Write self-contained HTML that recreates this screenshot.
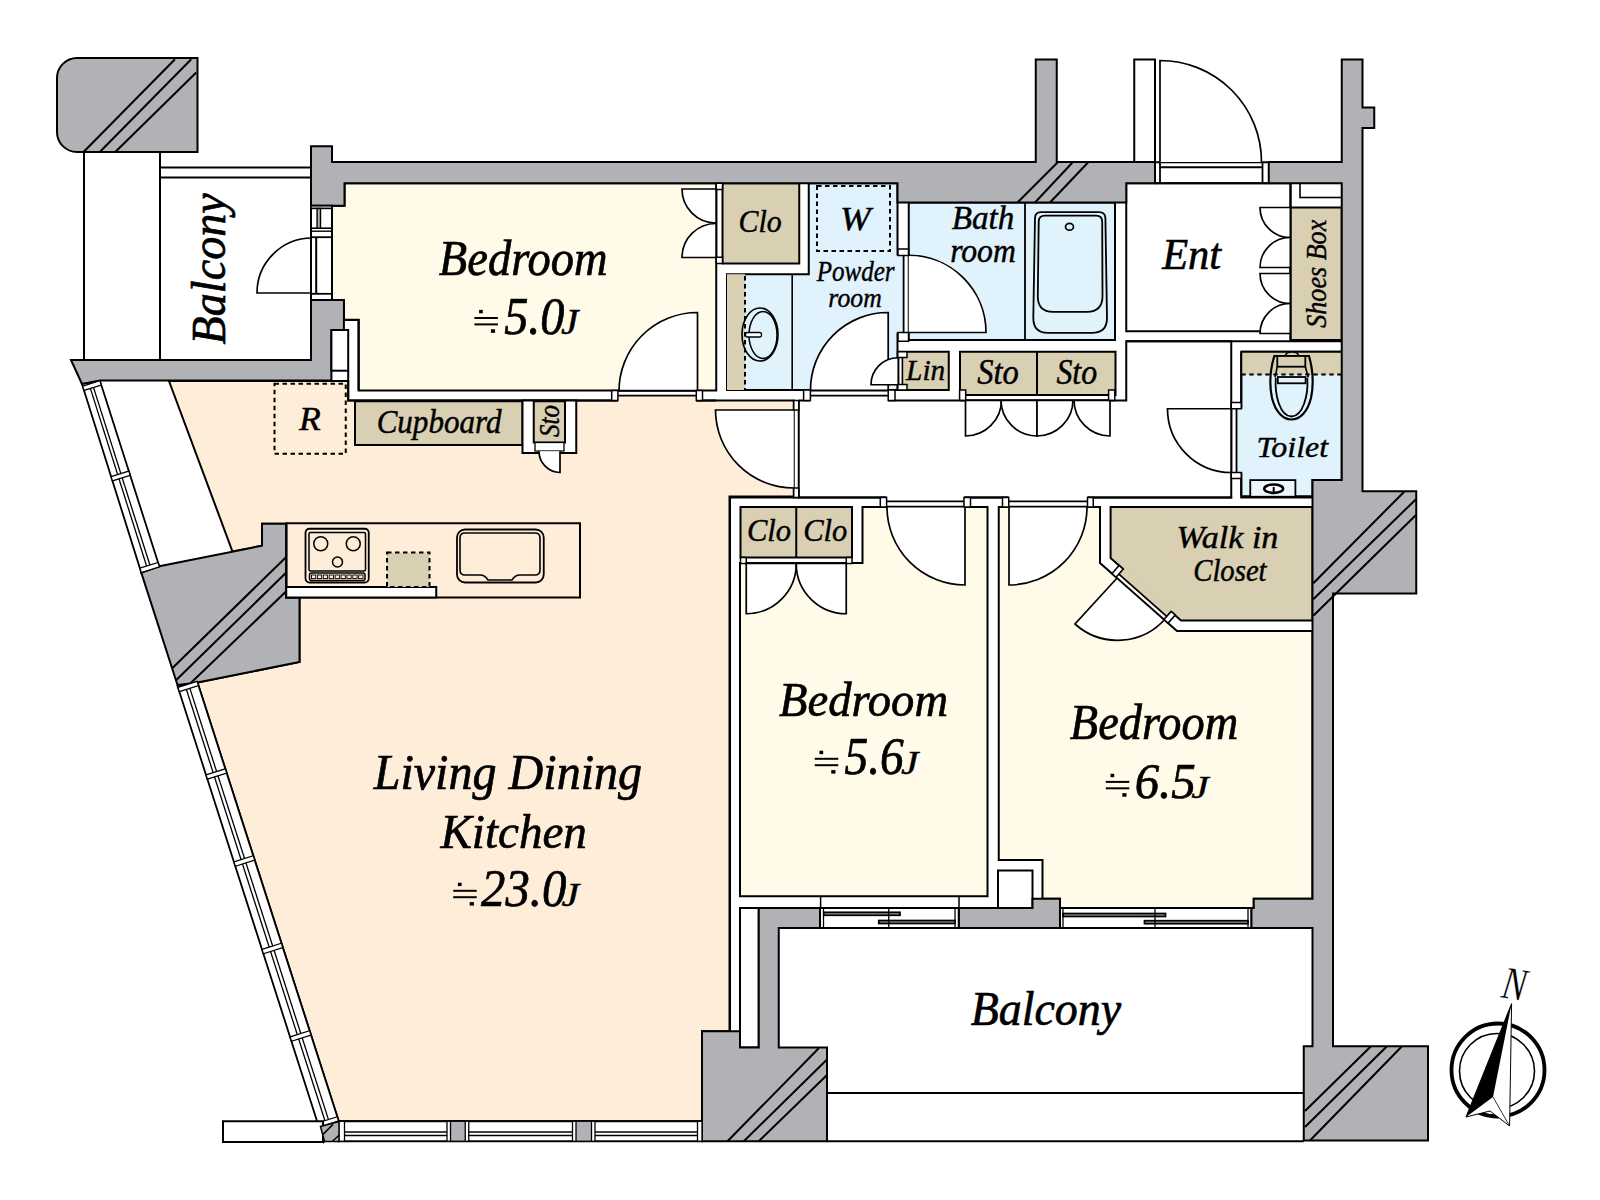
<!DOCTYPE html>
<html><head><meta charset="utf-8"><title>Floor plan</title>
<style>
html,body{margin:0;padding:0;background:#fff;}
body{width:1600px;height:1200px;overflow:hidden;}
svg{display:block;}
text{font-family:"Liberation Serif",serif;fill:#000;}
</style></head><body>
<svg width="1600" height="1200" viewBox="0 0 1600 1200">
<rect x="0" y="0" width="1600" height="1200" fill="#fff"/>
<polygon points="169,381 348.2,381 348.2,400.5 793.75,400.5 793.75,496.5 729.5,496.5 729.5,1031.25 702,1031.25 702,1121.25 338.75,1121.25 197.5,682.5 299.5,662 299.5,597.5 286.25,597.5 286.25,523.75 262,523.75 262,545.75 232.5,551.5" fill="#feedd9" stroke="#000" stroke-width="2" />
<polygon points="344.5,183.25 716.25,183.25 716.25,390.5 358.75,390.5 358.75,320 344,320 344,300 332,300 332,205.75 344.5,205.75" fill="#fffbe8" stroke="#000" stroke-width="2" />
<rect x="722.5" y="183.25" width="76.75" height="80.25" fill="#d9cfb3" stroke="#000" stroke-width="2" />
<polygon points="808.75,183.25 897.5,183.25 897.5,390 727,390 727,274.2 808.75,274.2" fill="#e0f2fb" stroke="#000" stroke-width="2" />
<rect x="727" y="274.2" width="18" height="115.8" fill="#d9cfb3" stroke="none" stroke-width="0" />
<line x1="745" y1="276" x2="745" y2="390" stroke="#000" stroke-width="2" stroke-dasharray="4.5,3.5"/>
<line x1="792.2" y1="274.2" x2="792.2" y2="390" stroke="#000" stroke-width="1.6" />
<rect x="817" y="186" width="73" height="65" fill="none" stroke="#000" stroke-width="2" stroke-dasharray="4.5,3.5"/>
<rect x="895.8" y="255.5" width="7.8" height="77" fill="#e0f2fb" stroke="none" stroke-width="0" />
<line x1="903.6" y1="255.5" x2="903.6" y2="332.5" stroke="#000" stroke-width="1.8" />
<polygon points="908.75,202.5 1115,202.5 1115,340 908.75,340" fill="#e0f2fb" stroke="#000" stroke-width="2" />
<line x1="1025" y1="202.5" x2="1025" y2="340" stroke="#000" stroke-width="1.8" />
<rect x="897.8" y="351.75" width="50.95" height="38.25" fill="#d9cfb3" stroke="#000" stroke-width="2" />
<rect x="960" y="351.75" width="155.5" height="43.25" fill="#d9cfb3" stroke="#000" stroke-width="2" />
<line x1="1037" y1="351.75" x2="1037" y2="395" stroke="#000" stroke-width="2" />
<polygon points="1126.25,183.25 1290.5,183.25 1290.5,331.25 1126.25,331.25" fill="#fff" stroke="#000" stroke-width="2" />
<rect x="1290.5" y="207.5" width="51.25" height="132.5" fill="#d9cfb3" stroke="#000" stroke-width="2" />
<rect x="1300" y="183.25" width="41.75" height="14.25" fill="#fff" stroke="#000" stroke-width="1.6" />
<line x1="1290.5" y1="183.25" x2="1290.5" y2="207.5" stroke="#000" stroke-width="2" />
<polyline points="798.75,400.5 1126.25,400.5 1126.25,341.25 1231.25,341.25 1231.25,497.5 798.75,497.5 798.75,400.5" fill="none" stroke="#000" stroke-width="2" />
<polygon points="1241.25,351.75 1341.75,351.75 1341.75,480 1312.5,480 1312.5,496.25 1241.25,496.25" fill="#e0f2fb" stroke="#000" stroke-width="2" />
<rect x="1241.25" y="351.75" width="100.5" height="22.75" fill="#d9cfb3" stroke="none" stroke-width="0" />
<line x1="1241.25" y1="374.5" x2="1341.75" y2="374.5" stroke="#000" stroke-width="2" stroke-dasharray="4.5,3.5"/>
<line x1="1241.25" y1="351.75" x2="1341.75" y2="351.75" stroke="#000" stroke-width="2" />
<line x1="1241.25" y1="351.75" x2="1241.25" y2="496.25" stroke="#000" stroke-width="2" />
<line x1="1126.25" y1="341.25" x2="1341.75" y2="341.25" stroke="#000" stroke-width="2" />
<polygon points="740,563 862.5,563 862.5,507 987.5,507 987.5,896.25 740,896.25" fill="#fffbe8" stroke="#000" stroke-width="2" />
<rect x="740.5" y="507" width="111.5" height="50.5" fill="#d9cfb3" stroke="#000" stroke-width="2" />
<line x1="796.25" y1="507" x2="796.25" y2="557.5" stroke="#000" stroke-width="2" />
<polyline points="730,1031.25 730,497.5 1093,497.5" fill="none" stroke="#000" stroke-width="2" />
<polygon points="998.75,507 1100,507 1100,563 1177,631 1312.5,631 1312.5,898.75 1253.75,898.75 1253.75,908 1060,908 1060,898.75 1042.5,898.75 1042.5,860 998.75,860" fill="#fffbe8" stroke="#000" stroke-width="2" />
<rect x="998" y="870.5" width="34.5" height="37.5" fill="#fff" stroke="#000" stroke-width="2" />
<polygon points="1110.6,507 1312.5,507 1312.5,620.5 1181,620.5 1110.6,558" fill="#d9cfb3" stroke="#000" stroke-width="2" />
<line x1="1093" y1="497.5" x2="1232.2" y2="497.5" stroke="#000" stroke-width="2" />
<line x1="1240.3" y1="497.5" x2="1312.5" y2="497.5" stroke="#000" stroke-width="2" />
<rect x="740" y="908" width="18.75" height="139.5" fill="#fff" stroke="#000" stroke-width="2" />
<path d="M77,58 H197.5 V152 H77 A20,20 0 0 1 57,132 V78 A20,20 0 0 1 77,58 Z" fill="#b1b2b6" stroke="#000" stroke-width="2"/>
<line x1="83.75" y1="151.75" x2="175" y2="59.25" stroke="#000" stroke-width="2" />
<line x1="100" y1="151.75" x2="191.25" y2="59.25" stroke="#000" stroke-width="2" />
<line x1="115.5" y1="151.75" x2="196.25" y2="72.5" stroke="#000" stroke-width="2" />
<line x1="84" y1="152" x2="84" y2="360" stroke="#000" stroke-width="2" />
<line x1="160" y1="152" x2="160" y2="360" stroke="#000" stroke-width="2" />
<line x1="160" y1="167.6" x2="311" y2="167.6" stroke="#000" stroke-width="2" />
<line x1="160" y1="177.6" x2="311" y2="177.6" stroke="#000" stroke-width="2" />
<polygon points="311,146.25 332,146.25 332,162 1035.75,162 1035.75,59.5 1056.75,59.5 1056.75,162 1155,162 1155,183.25 1126.25,183.25 1126.25,202.5 897.5,202.5 897.5,183.25 344.5,183.25 344.5,205.75 311,205.75" fill="#b1b2b6" stroke="#000" stroke-width="2" />
<line x1="1017.5" y1="202.5" x2="1057.5" y2="162.5" stroke="#000" stroke-width="2" />
<line x1="1035" y1="202.5" x2="1072.5" y2="162.5" stroke="#000" stroke-width="2" />
<line x1="1050" y1="202.5" x2="1088" y2="162.5" stroke="#000" stroke-width="2" />
<rect x="1134.25" y="59.5" width="20.75" height="102.5" fill="#fff" stroke="#000" stroke-width="2" />
<line x1="1155" y1="162.3" x2="1268" y2="162.3" stroke="#000" stroke-width="2" />
<line x1="1160" y1="167.2" x2="1262.5" y2="167.2" stroke="#000" stroke-width="2" />
<line x1="1155" y1="183.25" x2="1268" y2="183.25" stroke="#000" stroke-width="2" />
<line x1="1160" y1="162" x2="1160" y2="183.25" stroke="#000" stroke-width="1.8" />
<line x1="1262.5" y1="162" x2="1262.5" y2="183.25" stroke="#000" stroke-width="1.8" />
<polygon points="1268.75,162 1341.75,162 1341.75,59.5 1362.5,59.5 1362.5,107.5 1374.25,107.5 1374.25,128 1362.5,128 1362.5,491.25 1416.25,491.25 1416.25,593.5 1333,593.5 1333,1046.25 1428,1046.25 1428,1140.5 1303.75,1140.5 1303.75,1046.25 1312.5,1046.25 1312.5,928 1251.25,928 1251.25,908 1253.75,908 1253.75,898.75 1312.5,898.75 1312.5,480 1341.75,480 1341.75,183.25 1268.75,183.25" fill="#b1b2b6" stroke="#000" stroke-width="2" />
<line x1="1313.3" y1="583.3" x2="1404.2" y2="491.7" stroke="#000" stroke-width="2" />
<line x1="1313.3" y1="599.2" x2="1416" y2="499.2" stroke="#000" stroke-width="2" />
<line x1="1313.3" y1="615.8" x2="1416" y2="515" stroke="#000" stroke-width="2" />
<line x1="1305" y1="1111" x2="1371" y2="1046.25" stroke="#000" stroke-width="2" />
<line x1="1305" y1="1127" x2="1387" y2="1046.25" stroke="#000" stroke-width="2" />
<line x1="1310" y1="1140.5" x2="1402" y2="1046.25" stroke="#000" stroke-width="2" />
<polygon points="71,360 311,360 311,300 343.9,300 343.9,330 331.4,330 331.4,380.5 100,380.5 82,384" fill="#b1b2b6" stroke="#000" stroke-width="2" />
<rect x="331.4" y="330" width="16.8" height="40.7" fill="#fff" stroke="#000" stroke-width="2" />
<rect x="311" y="205.75" width="21" height="94.25" fill="#fff" stroke="#000" stroke-width="2" />
<rect x="311" y="205.75" width="21" height="2.75" fill="#b1b2b6" stroke="#000" stroke-width="1.4" />
<line x1="311" y1="228.2" x2="332" y2="228.2" stroke="#000" stroke-width="1.6" />
<line x1="311" y1="231.2" x2="332" y2="231.2" stroke="#000" stroke-width="1.4" />
<line x1="311" y1="237.2" x2="332" y2="237.2" stroke="#000" stroke-width="1.8" />
<rect x="317.1" y="208.5" width="3.4" height="19.7" fill="#b1b2b6" stroke="#000" stroke-width="1.4" />
<line x1="316.2" y1="237.2" x2="316.2" y2="293.3" stroke="#000" stroke-width="2" />
<line x1="311" y1="293.8" x2="332" y2="293.8" stroke="#000" stroke-width="1.8" />
<polyline points="343.9,319.8 358.5,319.8 358.5,390.5" fill="none" stroke="#000" stroke-width="2" />
<polyline points="348.2,370.7 348.2,400.5 716.25,400.5" fill="none" stroke="#000" stroke-width="2" />
<polygon points="141.25,572.5 159.25,566.25 262,545.75 262,523.75 286.25,523.75 286.25,597.5 299.5,597.5 299.5,662 197.5,682.5 177.5,685" fill="#b1b2b6" stroke="#000" stroke-width="2" />
<line x1="172.5" y1="668" x2="286.25" y2="557" stroke="#000" stroke-width="2" />
<line x1="176.25" y1="680" x2="286.25" y2="572.5" stroke="#000" stroke-width="2" />
<line x1="190" y1="683.75" x2="286.25" y2="591.25" stroke="#000" stroke-width="2" />
<polygon points="702,1031.25 740,1031.25 740,1047.5 758.75,1047.5 758.75,908 820,908 820,928 778.75,928 778.75,1047.5 827,1047.5 827,1141.25 702,1141.25" fill="#b1b2b6" stroke="#000" stroke-width="2" />
<line x1="727.5" y1="1141.25" x2="818.75" y2="1048.25" stroke="#000" stroke-width="2" />
<line x1="743.75" y1="1141.25" x2="827" y2="1059.5" stroke="#000" stroke-width="2" />
<line x1="758.75" y1="1141.25" x2="827" y2="1075" stroke="#000" stroke-width="2" />
<polygon points="958.75,908 1032.5,908 1032.5,898.75 1060,898.75 1060,928 958.75,928" fill="#b1b2b6" stroke="#000" stroke-width="2" />
<line x1="778.75" y1="928" x2="1312.5" y2="928" stroke="#000" stroke-width="2" />
<line x1="827" y1="1093" x2="1303.75" y2="1093" stroke="#000" stroke-width="2" />
<line x1="827" y1="1141.25" x2="1303.75" y2="1141.25" stroke="#000" stroke-width="2" />
<line x1="740" y1="908" x2="820" y2="908" stroke="#000" stroke-width="2" />
<polygon points="82,384 141.25,572.5 159.25,566.25 100,381" fill="#fff" stroke="#000" stroke-width="1.8" />
<line x1="88.66" y1="382.89" x2="147.91" y2="570.188" stroke="#000" stroke-width="1.3" />
<line x1="91.9" y1="382.35" x2="151.15" y2="569.062" stroke="#000" stroke-width="1.3" />
<polygon points="82.6806,386.165 99.9191,380.747 101.29,385.033 84.03,390.458" fill="#fff" stroke="#000" stroke-width="1.3" />
<polygon points="111.118,476.636 128.809,471.075 130.18,475.361 112.467,480.929" fill="#fff" stroke="#000" stroke-width="1.3" />
<polygon points="139.901,568.208 158.051,562.502 159.422,566.789 141.25,572.501" fill="#fff" stroke="#000" stroke-width="1.3" />
<polygon points="177.5,686 323.75,1142 338.75,1121.25 197.5,682.5" fill="#fff" stroke="#000" stroke-width="1.8" />
<line x1="184.9" y1="684.705" x2="329.3" y2="1134.32" stroke="#000" stroke-width="1.3" />
<line x1="188.5" y1="684.075" x2="332" y2="1130.59" stroke="#000" stroke-width="1.3" />
<polygon points="177.958,687.429 197.109,681.287 198.489,685.57 179.333,691.714" fill="#fff" stroke="#000" stroke-width="1.3" />
<polygon points="206.027,774.944 225.274,768.771 226.653,773.055 207.401,779.229" fill="#fff" stroke="#000" stroke-width="1.3" />
<polygon points="233.934,861.959 253.277,855.756 254.656,860.039 235.309,866.244" fill="#fff" stroke="#000" stroke-width="1.3" />
<polygon points="262.003,949.475 281.442,943.24 282.821,947.523 263.377,953.76" fill="#fff" stroke="#000" stroke-width="1.3" />
<polygon points="290.071,1036.99 309.606,1030.72 310.985,1035.01 291.445,1041.27" fill="#fff" stroke="#000" stroke-width="1.3" />
<polygon points="317.658,1123 337.288,1116.71 338.667,1120.99 319.032,1127.29" fill="#fff" stroke="#000" stroke-width="1.3" />
<rect x="223" y="1121.25" width="100" height="20.75" fill="#fff" stroke="#000" stroke-width="2" />
<rect x="338.75" y="1121.25" width="363.25" height="20" fill="#fff" stroke="#000" stroke-width="2" />
<line x1="338.75" y1="1132" x2="702" y2="1132" stroke="#000" stroke-width="1.3" />
<line x1="338.75" y1="1135.5" x2="702" y2="1135.5" stroke="#000" stroke-width="1.3" />
<rect x="447" y="1121.25" width="21.75" height="20" fill="#fff" stroke="#000" stroke-width="1.3" />
<rect x="450.5" y="1121.25" width="14.75" height="20" fill="#b1b2b6" stroke="#000" stroke-width="1.3" />
<rect x="572.5" y="1121.25" width="22.5" height="20" fill="#fff" stroke="#000" stroke-width="1.3" />
<rect x="576" y="1121.25" width="15.5" height="20" fill="#b1b2b6" stroke="#000" stroke-width="1.3" />
<rect x="338.75" y="1121.25" width="5.75" height="20" fill="#fff" stroke="#000" stroke-width="1.3" />
<rect x="697.5" y="1121.25" width="4.5" height="20" fill="#fff" stroke="#000" stroke-width="1.3" />
<polygon points="320.5,1126.5 339,1121.5 339,1141.5 324.5,1141.5" fill="#b1b2b6" stroke="#000" stroke-width="1.5"/>
<line x1="323" y1="1134.4" x2="333" y2="1124.4" stroke="#000" stroke-width="1.5" />
<line x1="332.2" y1="1141.5" x2="339" y2="1135.2" stroke="#000" stroke-width="1.5" />
<rect x="820" y="908" width="138.75" height="20" fill="#fff" stroke="#000" stroke-width="2" />
<line x1="820.6" y1="896.25" x2="820.6" y2="908" stroke="#000" stroke-width="1.5" />
<line x1="959" y1="896.25" x2="959" y2="908" stroke="#000" stroke-width="1.5" />
<rect x="823.75" y="912.3" width="76.25" height="3" fill="#888" stroke="#000" stroke-width="1.7" />
<rect x="878.75" y="920.5" width="76.25" height="3" fill="#888" stroke="#000" stroke-width="1.7" />
<line x1="888.75" y1="908" x2="888.75" y2="928" stroke="#000" stroke-width="1.3" />
<line x1="823.5" y1="908" x2="823.5" y2="928" stroke="#000" stroke-width="1.3" />
<line x1="955" y1="908" x2="955" y2="928" stroke="#000" stroke-width="1.3" />
<rect x="1060" y="908" width="191.25" height="20" fill="#fff" stroke="#000" stroke-width="2" />
<rect x="1063" y="913.5" width="102.5" height="3" fill="#888" stroke="#000" stroke-width="1.7" />
<rect x="1144.5" y="920.7" width="103.5" height="3" fill="#888" stroke="#000" stroke-width="1.7" />
<line x1="1155" y1="908" x2="1155" y2="928" stroke="#000" stroke-width="1.3" />
<line x1="1063" y1="908" x2="1063" y2="928" stroke="#000" stroke-width="1.3" />
<line x1="1248" y1="908" x2="1248" y2="928" stroke="#000" stroke-width="1.3" />
<rect x="286.25" y="523.25" width="293.75" height="74.25" fill="none" stroke="#000" stroke-width="2" />
<rect x="286.25" y="587" width="150" height="10.5" fill="#fff" stroke="#000" stroke-width="2" />
<rect x="305.5" y="528.75" width="63.25" height="53.75" rx="4" fill="none" stroke="#000" stroke-width="1.8"/>
<rect x="309" y="532.5" width="56.5" height="38.5" rx="1.5" fill="none" stroke="#000" stroke-width="1.5"/>
<rect x="309.5" y="573" width="55.5" height="7.5" rx="2" fill="none" stroke="#000" stroke-width="1.5"/>
<rect x="311.5" y="575" width="4.3" height="3.6" fill="none" stroke="#000" stroke-width="0.9"/>
<rect x="317.4" y="575" width="4.3" height="3.6" fill="none" stroke="#000" stroke-width="0.9"/>
<rect x="323.3" y="575" width="4.3" height="3.6" fill="none" stroke="#000" stroke-width="0.9"/>
<rect x="329.2" y="575" width="4.3" height="3.6" fill="none" stroke="#000" stroke-width="0.9"/>
<rect x="335.1" y="575" width="4.3" height="3.6" fill="none" stroke="#000" stroke-width="0.9"/>
<rect x="341" y="575" width="4.3" height="3.6" fill="none" stroke="#000" stroke-width="0.9"/>
<rect x="346.9" y="575" width="4.3" height="3.6" fill="none" stroke="#000" stroke-width="0.9"/>
<rect x="352.8" y="575" width="4.3" height="3.6" fill="none" stroke="#000" stroke-width="0.9"/>
<rect x="358.7" y="575" width="4.3" height="3.6" fill="none" stroke="#000" stroke-width="0.9"/>
<circle cx="320.75" cy="543.75" r="7" fill="none" stroke="#000" stroke-width="1.5"/>
<circle cx="353.25" cy="543.75" r="7" fill="none" stroke="#000" stroke-width="1.5"/>
<circle cx="337.5" cy="562" r="5" fill="none" stroke="#000" stroke-width="1.5"/>
<rect x="387" y="552.5" width="42.5" height="34.5" fill="#d9cfb3" stroke="#000" stroke-width="2" stroke-dasharray="4.5,3.5"/>
<rect x="457" y="529.5" width="86.75" height="53" rx="8" fill="none" stroke="#000" stroke-width="1.8"/>
<path d="M468,533 H535 Q540,533 540,538 V570 Q540,575 535,575 H520 Q515,575 512,580 H488 Q485,575 480,575 H465 Q460,575 460,570 V538 Q460,533 465,533 Z" fill="none" stroke="#000" stroke-width="1.6"/>
<rect x="274.5" y="383.75" width="71.25" height="70" fill="none" stroke="#000" stroke-width="2" stroke-dasharray="4.5,3.5"/>
<rect x="355" y="401.25" width="167.5" height="43.75" fill="#d9cfb3" stroke="#000" stroke-width="2" />
<rect x="522.5" y="400.5" width="53.75" height="52.5" fill="#fff" stroke="#000" stroke-width="2" />
<rect x="533.75" y="401.25" width="31.25" height="41.25" fill="#d9cfb3" stroke="#000" stroke-width="2" />
<rect x="535" y="442.5" width="29" height="8.5" fill="#fff" stroke="#000" stroke-width="1.3" />
<path d="M312,293 L257,293 A55,55 0 0 1 312,238 Z" fill="#fff" stroke="none"/>
<path d="M312,293 L257,293 A55,55 0 0 1 312,238" fill="none" stroke="#000" stroke-width="1.7"/>
<path d="M716,189 L682,189 A34,34 0 0 0 716,223 Z" fill="#fff" stroke="none"/>
<path d="M716,189 L682,189 A34,34 0 0 0 716,223" fill="none" stroke="#000" stroke-width="1.7"/>
<path d="M716,257.5 L682,257.5 A34,34 0 0 1 716,223.5 Z" fill="#fff" stroke="none"/>
<path d="M716,257.5 L682,257.5 A34,34 0 0 1 716,223.5" fill="none" stroke="#000" stroke-width="1.7"/>
<path d="M697.5,391 L697.5,312.5 A78.5,78.5 0 0 0 619,391 Z" fill="#fff" stroke="none"/>
<path d="M697.5,391 L697.5,312.5 A78.5,78.5 0 0 0 619,391" fill="none" stroke="#000" stroke-width="1.7"/>
<path d="M560,451.25 L560,472.5 A21.25,21.25 0 0 1 539,451.25 Z" fill="#fff" stroke="none"/>
<path d="M560,451.25 L560,472.5 A21.25,21.25 0 0 1 539,451.25" fill="none" stroke="#000" stroke-width="1.7"/>
<path d="M793.75,410 L715.5,410 A78.25,78.25 0 0 0 793.75,488 Z" fill="#fff" stroke="none"/>
<path d="M793.75,410 L715.5,410 A78.25,78.25 0 0 0 793.75,488" fill="none" stroke="#000" stroke-width="1.7"/>
<path d="M888.2,390 L888.2,312.5 A77.5,77.5 0 0 0 810.5,390 Z" fill="#fff" stroke="none"/>
<path d="M888.2,390 L888.2,312.5 A77.5,77.5 0 0 0 810.5,390" fill="none" stroke="#000" stroke-width="1.7"/>
<path d="M908.75,332.5 L986,332.5 A77.25,77.25 0 0 0 908.75,255.25 Z" fill="#fff" stroke="none"/>
<path d="M908.75,332.5 L986,332.5 A77.25,77.25 0 0 0 908.75,255.25" fill="none" stroke="#000" stroke-width="1.7"/>
<path d="M898,384.75 L871,384.75 A27,27 0 0 1 898,357.75 Z" fill="#fff" stroke="none"/>
<path d="M898,384.75 L871,384.75 A27,27 0 0 1 898,357.75" fill="none" stroke="#000" stroke-width="1.7"/>
<path d="M965.5,400 L965.5,436 A36,36 0 0 0 1001.5,400 Z" fill="#fff" stroke="none"/>
<path d="M965.5,400 L965.5,436 A36,36 0 0 0 1001.5,400" fill="none" stroke="#000" stroke-width="1.7"/>
<path d="M1037,400 L1037,436 A36,36 0 0 1 1001,400 Z" fill="#fff" stroke="none"/>
<path d="M1037,400 L1037,436 A36,36 0 0 1 1001,400" fill="none" stroke="#000" stroke-width="1.7"/>
<path d="M1037,400 L1037,436 A36,36 0 0 0 1073,400 Z" fill="#fff" stroke="none"/>
<path d="M1037,400 L1037,436 A36,36 0 0 0 1073,400" fill="none" stroke="#000" stroke-width="1.7"/>
<path d="M1110,400 L1110,436 A36,36 0 0 1 1074,400 Z" fill="#fff" stroke="none"/>
<path d="M1110,400 L1110,436 A36,36 0 0 1 1074,400" fill="none" stroke="#000" stroke-width="1.7"/>
<path d="M1231.25,408.75 L1167.5,408.75 A63.75,63.75 0 0 0 1231.25,472.5 Z" fill="#fff" stroke="none"/>
<path d="M1231.25,408.75 L1167.5,408.75 A63.75,63.75 0 0 0 1231.25,472.5" fill="none" stroke="#000" stroke-width="1.7"/>
<path d="M1160,162 L1160,60.5 A101.5,101.5 0 0 1 1261.5,162 Z" fill="#fff" stroke="none"/>
<path d="M1160,162 L1160,60.5 A101.5,101.5 0 0 1 1261.5,162" fill="none" stroke="#000" stroke-width="1.7"/>
<path d="M746.25,563.75 L746.25,613.75 A50,50 0 0 0 796.25,563.75 Z" fill="#fff" stroke="none"/>
<path d="M746.25,563.75 L746.25,613.75 A50,50 0 0 0 796.25,563.75" fill="none" stroke="#000" stroke-width="1.7"/>
<path d="M846.25,563.75 L846.25,613.75 A50,50 0 0 1 796.25,563.75 Z" fill="#fff" stroke="none"/>
<path d="M846.25,563.75 L846.25,613.75 A50,50 0 0 1 796.25,563.75" fill="none" stroke="#000" stroke-width="1.7"/>
<path d="M965,507 L965,585 A78,78 0 0 1 887,507 Z" fill="#fff" stroke="none"/>
<path d="M965,507 L965,585 A78,78 0 0 1 887,507" fill="none" stroke="#000" stroke-width="1.7"/>
<path d="M1009,507 L1009,585 A78,78 0 0 0 1087,507 Z" fill="#fff" stroke="none"/>
<path d="M1009,507 L1009,585 A78,78 0 0 0 1087,507" fill="none" stroke="#000" stroke-width="1.7"/>
<path d="M1118,577 L1075,624 A63.7024,63.7024 0 0 0 1166,618 Z" fill="#fff" stroke="none"/>
<path d="M1118,577 L1075,624 A63.7024,63.7024 0 0 0 1166,618" fill="none" stroke="#000" stroke-width="1.7"/>
<path d="M1290,207.5 L1260,207.5 A30,30 0 0 0 1290,237.5 Z" fill="#fff" stroke="none"/>
<path d="M1290,207.5 L1260,207.5 A30,30 0 0 0 1290,237.5" fill="none" stroke="#000" stroke-width="1.7"/>
<path d="M1290,267.5 L1260,267.5 A30,30 0 0 1 1290,237.5 Z" fill="#fff" stroke="none"/>
<path d="M1290,267.5 L1260,267.5 A30,30 0 0 1 1290,237.5" fill="none" stroke="#000" stroke-width="1.7"/>
<path d="M1290,273.5 L1260,273.5 A30,30 0 0 0 1290,303.5 Z" fill="#fff" stroke="none"/>
<path d="M1290,273.5 L1260,273.5 A30,30 0 0 0 1290,303.5" fill="none" stroke="#000" stroke-width="1.7"/>
<path d="M1290,333.5 L1260,333.5 A30,30 0 0 1 1290,303.5 Z" fill="#fff" stroke="none"/>
<path d="M1290,333.5 L1260,333.5 A30,30 0 0 1 1290,303.5" fill="none" stroke="#000" stroke-width="1.7"/>
<path d="M1041,212.1 H1099 Q1105.2,212.1 1105.4,218 L1107,318 Q1107,332.9 1092,332.9 H1048 Q1033.3,332.9 1033.3,318 L1035,218 Q1035.1,212.1 1041,212.1 Z" fill="none" stroke="#000" stroke-width="1.8"/>
<path d="M1045,215.7 H1096 Q1102.2,215.7 1102.2,222 L1102.5,296 Q1102.5,311.8 1087,311.8 H1053 Q1037.5,311.8 1037.8,296 L1038.7,222 Q1038.7,215.7 1045,215.7 Z" fill="none" stroke="#000" stroke-width="1.8"/>
<ellipse cx="1069.5" cy="226.8" rx="4" ry="3.4" fill="none" stroke="#000" stroke-width="1.7"/>
<ellipse cx="760" cy="334.5" rx="18" ry="26.5" fill="none" stroke="#000" stroke-width="1.6"/>
<ellipse cx="763" cy="335" rx="14" ry="23.5" fill="none" stroke="#000" stroke-width="1.5"/>
<rect x="745.5" y="332.5" width="16" height="4.5" rx="2" fill="#fff" stroke="#000" stroke-width="1.3"/>
<path d="M1285.3,355.9 Q1286,352 1292,352 Q1298,352 1298.7,355.9" fill="#d9cfb3" stroke="#000" stroke-width="1.6"/>
<path d="M1274.3,356 L1309,356 C1313,370 1313.5,386 1311,398 C1307.5,412 1300,419.5 1291.5,419.5 C1283,419.5 1275.5,412 1272,398 C1269.5,386 1270,370 1274.3,356 Z" fill="none" stroke="#000" stroke-width="2.2"/>
<path d="M1275.8,378 C1274.5,395 1280,416 1291.5,416.5 C1303,416 1308.5,395 1307.3,378" fill="none" stroke="#000" stroke-width="1.8"/>
<rect x="1277.3" y="356" width="28" height="10.7" fill="#d9cfb3" stroke="#000" stroke-width="1.8"/>
<path d="M1277.3,366.7 L1275,377.5 M1305.3,366.7 L1308.3,377.5" fill="none" stroke="#000" stroke-width="1.6"/>
<rect x="1277.8" y="377" width="27.8" height="6.3" fill="#e0f2fb" stroke="#000" stroke-width="1.8"/>
<rect x="1250.25" y="480.1" width="45.15" height="16.65" fill="#ecf6fc" stroke="#000" stroke-width="1.8" />
<ellipse cx="1273.7" cy="488.7" rx="9.4" ry="4.2" fill="#fff" stroke="#000" stroke-width="2.6"/>
<line x1="1273.7" y1="487" x2="1273.7" y2="492.5" stroke="#000" stroke-width="2"/>
<line x1="311" y1="236.5" x2="311" y2="294.5" stroke="#000" stroke-width="2" />
<rect x="617.9" y="396.5" width="78.4" height="5.5" fill="#feedd9" stroke="none" stroke-width="0" />
<line x1="617.9" y1="395.6" x2="696.3" y2="395.6" stroke="#000" stroke-width="1.8" />
<line x1="617.9" y1="390.8" x2="696.3" y2="390.8" stroke="#000" stroke-width="2" />
<rect x="611.7" y="390.5" width="6.2" height="10" fill="#fff" stroke="#000" stroke-width="1.5" />
<rect x="696.3" y="390.5" width="6.2" height="10" fill="#fff" stroke="#000" stroke-width="1.5" />
<rect x="810.4" y="396.5" width="77.8" height="5.5" fill="#fff" stroke="none" stroke-width="0" />
<line x1="810.4" y1="395.6" x2="888.2" y2="395.6" stroke="#000" stroke-width="1.8" />
<line x1="810.4" y1="390.5" x2="888.2" y2="390.5" stroke="#000" stroke-width="2" />
<rect x="803.6" y="390" width="6.8" height="10.5" fill="#fff" stroke="#000" stroke-width="1.5" />
<rect x="888.2" y="390" width="6.8" height="10.5" fill="#fff" stroke="#000" stroke-width="1.5" />
<rect x="793.75" y="400.5" width="5" height="9.5" fill="#fff" stroke="#000" stroke-width="1.5" />
<rect x="793.75" y="488" width="5" height="9.5" fill="#fff" stroke="#000" stroke-width="1.5" />
<rect x="886.6" y="495.5" width="77.4" height="4.5" fill="#fff" stroke="none" stroke-width="0" />
<line x1="886.6" y1="501.4" x2="964" y2="501.4" stroke="#000" stroke-width="1.8" />
<line x1="886.6" y1="506.6" x2="964" y2="506.6" stroke="#000" stroke-width="1.8" />
<rect x="1008.75" y="495.5" width="78.75" height="4.5" fill="#fff" stroke="none" stroke-width="0" />
<line x1="1008.75" y1="501.4" x2="1087.5" y2="501.4" stroke="#000" stroke-width="1.8" />
<line x1="1008.75" y1="506.6" x2="1087.5" y2="506.6" stroke="#000" stroke-width="1.8" />
<rect x="880.3" y="497.5" width="6.3" height="9.5" fill="#fff" stroke="#000" stroke-width="1.5" />
<rect x="964" y="497.5" width="6.5" height="9.5" fill="#fff" stroke="#000" stroke-width="1.5" />
<rect x="1002.5" y="497.5" width="6.25" height="9.5" fill="#fff" stroke="#000" stroke-width="1.5" />
<rect x="1087.5" y="497.5" width="5.75" height="9.5" fill="#fff" stroke="#000" stroke-width="1.5" />
<rect x="740.5" y="557.5" width="5.75" height="6" fill="#fff" stroke="#000" stroke-width="1.5" />
<rect x="846.25" y="557.5" width="5.75" height="6" fill="#fff" stroke="#000" stroke-width="1.5" />
<rect x="716.25" y="183.25" width="6.25" height="6.25" fill="#fff" stroke="#000" stroke-width="1.5" />
<rect x="716.25" y="257.25" width="6.25" height="6.25" fill="#fff" stroke="#000" stroke-width="1.5" />
<rect x="898" y="249" width="10.5" height="6.5" fill="#fff" stroke="#000" stroke-width="1.5" />
<rect x="898" y="332.5" width="10.5" height="8.75" fill="#fff" stroke="#000" stroke-width="1.5" />
<rect x="899" y="357.5" width="3" height="27" fill="#fff" stroke="none" stroke-width="0" />
<line x1="898.4" y1="357.5" x2="898.4" y2="384.75" stroke="#000" stroke-width="2" />
<line x1="902.4" y1="357.5" x2="902.4" y2="384.5" stroke="#000" stroke-width="1.6" />
<rect x="897.8" y="351.75" width="9.2" height="5.75" fill="#fff" stroke="#000" stroke-width="1.5" />
<rect x="897.8" y="384.5" width="9.2" height="5.5" fill="#fff" stroke="#000" stroke-width="1.5" />
<line x1="960" y1="400.3" x2="1115" y2="400.3" stroke="#000" stroke-width="2" />
<rect x="959.6" y="390" width="6.1" height="10.3" fill="#fff" stroke="#000" stroke-width="1.5" />
<rect x="1108.6" y="390" width="6.2" height="10.3" fill="#fff" stroke="#000" stroke-width="1.5" />
<line x1="746.25" y1="563.3" x2="846.25" y2="563.3" stroke="#000" stroke-width="1.8" />
<line x1="716.25" y1="189.5" x2="716.25" y2="257.25" stroke="#000" stroke-width="2" />
<line x1="1290.5" y1="207.5" x2="1290.5" y2="340" stroke="#000" stroke-width="2" />
<rect x="1236.8" y="408.75" width="6.4" height="63.75" fill="#e0f2fb" stroke="none" stroke-width="0" />
<line x1="1236.5" y1="408.75" x2="1236.5" y2="472.5" stroke="#000" stroke-width="1.8" />
<line x1="1231.25" y1="408" x2="1231.25" y2="473" stroke="#000" stroke-width="2" />
<rect x="1231.25" y="402.5" width="10" height="6.25" fill="#fff" stroke="#000" stroke-width="1.5" />
<rect x="1231.25" y="472.5" width="10" height="6" fill="#fff" stroke="#000" stroke-width="1.5" />
<polygon points="1118.1,574.986 1165.94,617.228 1172.29,610.031 1124.46,567.789" fill="#d9cfb3" stroke="none" stroke-width="0" />
<polygon points="1116.12,577.235 1163.95,619.477 1166.07,617.078 1118.24,574.836" fill="#fff" stroke="none" stroke-width="0" />
<line x1="1116.12" y1="577.235" x2="1163.95" y2="619.477" stroke="#000" stroke-width="1.8" />
<line x1="1118.9" y1="574.086" x2="1166.73" y2="616.328" stroke="#000" stroke-width="1.8" />
<polygon points="1112,573.594 1116.12,577.235 1123.27,569.138 1119.15,565.497" fill="#fff" stroke="#000" stroke-width="1.6" />
<polygon points="1163.95,619.477 1168.07,623.119 1175.22,615.022 1171.1,611.38" fill="#fff" stroke="#000" stroke-width="1.6" />
<circle cx="1498" cy="1070" r="46.5" fill="#fff" stroke="#000" stroke-width="3.8"/>
<circle cx="1497" cy="1071" r="37.5" fill="none" stroke="#000" stroke-width="1.6"/>
<polygon points="1511.6,1003.6 1509.6,1126 1490,1111 1466,1117" fill="#fff" stroke="#000" stroke-width="1"/>
<polygon points="1511.6,1003.6 1466,1117 1493,1097" fill="#000"/>
<line x1="1493" y1="1097" x2="1509.6" y2="1126" stroke="#000" stroke-width="0.8"/>
<text x="438.83" y="274.90" font-size="50.43" font-style="italic" textLength="168.77" lengthAdjust="spacingAndGlyphs" stroke="#000" stroke-width="0.71">Bedroom</text>
<text x="779.03" y="715.50" font-size="49.57" font-style="italic" textLength="169.03" lengthAdjust="spacingAndGlyphs" stroke="#000" stroke-width="0.69">Bedroom</text>
<text x="1069.84" y="739.10" font-size="50.43" font-style="italic" textLength="168.37" lengthAdjust="spacingAndGlyphs" stroke="#000" stroke-width="0.71">Bedroom</text>
<text x="373.68" y="789.40" font-size="51.54" font-style="italic" textLength="268.43" lengthAdjust="spacingAndGlyphs" stroke="#000" stroke-width="0.72">Living Dining</text>
<text x="440.47" y="848.00" font-size="49.28" font-style="italic" textLength="146.43" lengthAdjust="spacingAndGlyphs" stroke="#000" stroke-width="0.69">Kitchen</text>
<text x="970.79" y="1025.00" font-size="48.55" font-style="italic" textLength="150.29" lengthAdjust="spacingAndGlyphs" stroke="#000" stroke-width="0.68">Balcony</text>
<text x="1176.62" y="548.00" font-size="31.16" font-style="italic" textLength="101.77" lengthAdjust="spacingAndGlyphs" stroke="#000" stroke-width="0.44">Walk in</text>
<text x="1193.28" y="581.00" font-size="31.16" font-style="italic" textLength="73.31" lengthAdjust="spacingAndGlyphs" stroke="#000" stroke-width="0.44">Closet</text>
<text x="1256.51" y="457.00" font-size="30.43" font-style="italic" textLength="71.65" lengthAdjust="spacingAndGlyphs" stroke="#000" stroke-width="0.43">Toilet</text>
<text x="1162.22" y="269.40" font-size="44.15" font-style="italic" textLength="58.88" lengthAdjust="spacingAndGlyphs" stroke="#000" stroke-width="0.62">Ent</text>
<text x="738.51" y="232.20" font-size="32.61" font-style="italic" textLength="43.13" lengthAdjust="spacingAndGlyphs" stroke="#000" stroke-width="0.46">Clo</text>
<text x="839.92" y="229.75" font-size="33.77" font-style="italic" textLength="30.65" lengthAdjust="spacingAndGlyphs" stroke="#000" stroke-width="0.47">W</text>
<text x="816.75" y="280.60" font-size="28.55" font-style="italic" textLength="77.87" lengthAdjust="spacingAndGlyphs" stroke="#000" stroke-width="0.40">Powder</text>
<text x="828.37" y="306.50" font-size="28.30" font-style="italic" textLength="53.37" lengthAdjust="spacingAndGlyphs" stroke="#000" stroke-width="0.40">room</text>
<text x="951.67" y="229.20" font-size="33.91" font-style="italic" textLength="62.55" lengthAdjust="spacingAndGlyphs" stroke="#000" stroke-width="0.47">Bath</text>
<text x="950.13" y="261.80" font-size="33.40" font-style="italic" textLength="65.67" lengthAdjust="spacingAndGlyphs" stroke="#000" stroke-width="0.47">room</text>
<text x="299.00" y="429.90" font-size="32.77" font-style="italic" textLength="21.75" lengthAdjust="spacingAndGlyphs" stroke="#000" stroke-width="0.46">R</text>
<text x="376.64" y="432.80" font-size="33.77" font-style="italic" textLength="124.83" lengthAdjust="spacingAndGlyphs" stroke="#000" stroke-width="0.47">Cupboard</text>
<text x="906.09" y="380.20" font-size="29.85" font-style="italic" textLength="39.10" lengthAdjust="spacingAndGlyphs" stroke="#000" stroke-width="0.42">Lin</text>
<text x="977.27" y="383.80" font-size="36.46" font-style="italic" textLength="41.53" lengthAdjust="spacingAndGlyphs" stroke="#000" stroke-width="0.51">Sto</text>
<text x="1056.38" y="383.80" font-size="36.46" font-style="italic" textLength="40.71" lengthAdjust="spacingAndGlyphs" stroke="#000" stroke-width="0.51">Sto</text>
<text x="746.92" y="541.25" font-size="32.61" font-style="italic" textLength="44.15" lengthAdjust="spacingAndGlyphs" stroke="#000" stroke-width="0.46">Clo</text>
<text x="803.17" y="541.25" font-size="32.61" font-style="italic" textLength="44.15" lengthAdjust="spacingAndGlyphs" stroke="#000" stroke-width="0.46">Clo</text>
<g transform="rotate(9 1515 985)"><text x="1502.36" y="999.50" font-size="46.15" font-style="italic" textLength="24.09" lengthAdjust="spacingAndGlyphs" stroke="#fff" stroke-width="0.25">N</text></g>
<g transform="translate(225.00,344.00) rotate(-90)"><text x="-0.46" y="0" font-size="49.28" font-style="italic" textLength="151.30" lengthAdjust="spacingAndGlyphs" stroke="#000" stroke-width="0.69">Balcony</text></g>
<g transform="translate(1326.25,327.50) rotate(-90)"><text x="-0.26" y="0" font-size="30.07" font-style="italic" textLength="107.96" lengthAdjust="spacingAndGlyphs" stroke="#000" stroke-width="0.42">Shoes Box</text></g>
<g transform="translate(558.70,436.70) rotate(-90)"><text x="-0.25" y="0" font-size="29.85" font-style="italic" textLength="31.95" lengthAdjust="spacingAndGlyphs" stroke="#000" stroke-width="0.42">Sto</text></g>
<rect x="474.40" y="317.00" width="23.5" height="2" fill="#000"/>
<rect x="474.40" y="323.40" width="23.5" height="2" fill="#000"/>
<rect x="479.10" y="309.90" width="3.7" height="3.4" fill="#000"/>
<rect x="490.90" y="329.30" width="4.2" height="3.5" fill="#000"/>
<text x="504.13" y="333.60" font-size="51.85" font-style="italic" textLength="60.35" lengthAdjust="spacingAndGlyphs" stroke="#000" stroke-width="0.73">5.0</text>
<text x="561.02" y="333.60" font-size="35.15" font-style="italic" textLength="17.37" lengthAdjust="spacingAndGlyphs" stroke="#000" stroke-width="0.49">J</text>
<rect x="814.75" y="757.80" width="23.5" height="2" fill="#000"/>
<rect x="814.75" y="764.20" width="23.5" height="2" fill="#000"/>
<rect x="819.45" y="750.70" width="3.7" height="3.4" fill="#000"/>
<rect x="831.25" y="770.10" width="4.2" height="3.5" fill="#000"/>
<text x="844.55" y="774.40" font-size="52.00" font-style="italic" textLength="59.22" lengthAdjust="spacingAndGlyphs" stroke="#000" stroke-width="0.73">5.6</text>
<text x="901.02" y="774.40" font-size="34.62" font-style="italic" textLength="17.37" lengthAdjust="spacingAndGlyphs" stroke="#000" stroke-width="0.48">J</text>
<rect x="1105.80" y="780.90" width="23.5" height="2" fill="#000"/>
<rect x="1105.80" y="787.30" width="23.5" height="2" fill="#000"/>
<rect x="1110.50" y="773.80" width="3.7" height="3.4" fill="#000"/>
<rect x="1122.30" y="793.20" width="4.2" height="3.5" fill="#000"/>
<text x="1134.64" y="797.50" font-size="51.54" font-style="italic" textLength="61.23" lengthAdjust="spacingAndGlyphs" stroke="#000" stroke-width="0.72">6.5</text>
<text x="1191.22" y="797.50" font-size="32.31" font-style="italic" textLength="17.37" lengthAdjust="spacingAndGlyphs" stroke="#000" stroke-width="0.45">J</text>
<rect x="453.20" y="889.80" width="23.5" height="2" fill="#000"/>
<rect x="453.20" y="896.20" width="23.5" height="2" fill="#000"/>
<rect x="457.90" y="882.70" width="3.7" height="3.4" fill="#000"/>
<rect x="469.70" y="902.10" width="4.2" height="3.5" fill="#000"/>
<text x="481.10" y="906.40" font-size="52.62" font-style="italic" textLength="85.29" lengthAdjust="spacingAndGlyphs" stroke="#000" stroke-width="0.74">23.0</text>
<text x="561.41" y="906.40" font-size="34.62" font-style="italic" textLength="17.56" lengthAdjust="spacingAndGlyphs" stroke="#000" stroke-width="0.48">J</text>
</svg>
</body></html>
